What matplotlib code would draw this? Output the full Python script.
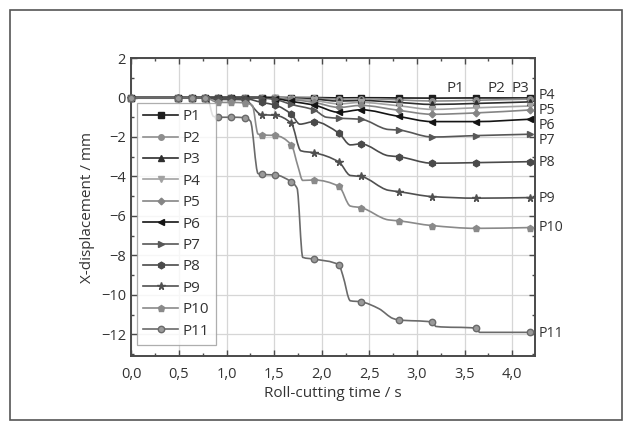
import matplotlib
matplotlib.use("Agg")
import matplotlib.pyplot as plt
import matplotlib.transforms as mtransforms
from matplotlib.lines import Line2D
from matplotlib.patches import Rectangle, PathPatch
from matplotlib.path import Path

plt.rcParams['font.family'] = ['Open Sans', 'DejaVu Sans']

# ---- data ----
series_names = ["P1", "P2", "P3", "P4", "P5", "P6", "P7", "P8", "P9", "P10", "P11"]

# times of the plotted symbols (s)
t_mark = [0.0, 0.49, 0.64, 0.77, 0.91, 1.05, 1.19, 1.37, 1.51, 1.68,
          1.92, 2.18, 2.41, 2.81, 3.16, 3.62, 4.19]

p1 = [0, 0, 0, 0, 0, 0, 0, 0, 0, 0, 0, -0.02, -0.01, -0.02, -0.03, -0.02, -0.02]
p2 = [0, 0, 0, 0, 0, 0, 0, 0, 0, 0, -0.03, -0.08, -0.06, -0.12, -0.18, -0.14, -0.08]
p3 = [0, 0, 0, 0, 0, 0, 0, 0, 0, -0.03, -0.08, -0.18, -0.15, -0.25, -0.35, -0.30, -0.22]
p4 = [0, 0, 0, 0, 0, 0, 0, 0, 0, -0.06, -0.15, -0.32, -0.25, -0.42, -0.60, -0.52, -0.43]
p5 = [0, 0, 0, 0, 0, 0, 0, 0, -0.03, -0.10, -0.25, -0.50, -0.40, -0.65, -0.85, -0.78, -0.63]
p6 = [0, 0, 0, 0, 0, 0, 0, 0, -0.05, -0.20, -0.38, -0.75, -0.62, -0.96, -1.22, -1.22, -1.10]
p7 = [0, 0, 0, 0, 0, 0, 0, -0.03, -0.10, -0.35, -0.63, -1.05, -1.10, -1.65, -2.00, -1.93, -1.86]
p8 = [0, 0, 0, 0, -0.03, -0.03, -0.05, -0.25, -0.38, -0.85, -1.22, -1.81, -2.35, -3.00, -3.33, -3.30, -3.25]
p9 = [0, 0, 0, 0, -0.10, -0.10, -0.12, -0.87, -0.90, -1.31, -2.80, -3.27, -4.00, -4.77, -5.02, -5.10, -5.07]
p10 = [0, 0, 0, 0, -0.25, -0.25, -0.27, -1.90, -1.92, -2.40, -4.18, -4.50, -5.58, -6.25, -6.49, -6.63, -6.59]
p11 = [0, 0, 0, 0, -1.00, -1.00, -1.02, -3.90, -3.92, -4.28, -8.19, -8.48, -10.35, -11.27, -11.38, -11.69, -11.90]

# extra points along the curves between the symbols (t, value)
k1 = []
k2 = []
k3 = []
k4 = []
k5 = []
k6 = []
k7 = [(2.05, -1.00), (2.70, -1.62)]
k8 = [(1.77, -1.35), (2.30, -2.40), (2.70, -2.95)]
k9 = [(1.36, -0.86), (1.78, -2.70), (2.30, -3.95), (2.70, -4.70)]
k10 = [(1.27, -0.40), (1.33, -1.85), (1.75, -3.50), (1.80, -4.20), (2.30, -5.50), (2.70, -6.20)]
k11 = [(0.80, -0.05), (0.86, -0.95), (1.25, -1.20), (1.33, -3.85), (1.74, -4.60),
       (1.80, -8.10), (2.22, -9.00), (2.30, -10.30), (2.60, -10.70), (2.75, -11.20),
       (3.20, -11.60), (3.66, -11.90)]

values = [p1, p2, p3, p4, p5, p6, p7, p8, p9, p10, p11]
knots = [k1, k2, k3, k4, k5, k6, k7, k8, k9, k10, k11]

x_ticks = [0.0, 0.5, 1.0, 1.5, 2.0, 2.5, 3.0, 3.5, 4.0]
x_ticklabels = ["0,0", "0,5", "1,0", "1,5", "2,0", "2,5", "3,0", "3,5", "4,0"]
y_ticks = [2, 0, -2, -4, -6, -8, -10, -12]

# ---- styles ----
markers = ['s', 'o', '^', 'v', 'D', '<', '>', 'h', '*', 'p', 'o']
msizes = [4.0, 4.0, 4.5, 4.5, 3.4, 4.5, 4.5, 4.8, 5.5, 4.6, 4.6]
colors = ['#1e1e1e', '#8e8e8e', '#2e2e2e', '#a2a2a2', '#858585', '#141414',
          '#575757', '#4a4a4a', '#505050', '#8a8a8a', '#6a6a6a']
facecols = list(colors)
facecols[10] = '#9a9a9a'


def smooth_path(xs, ys):
    """Monotone cubic Hermite (Fritsch-Carlson) drawn as Bezier segments."""
    n = len(xs)
    h = [xs[i + 1] - xs[i] for i in range(n - 1)]
    d = [(ys[i + 1] - ys[i]) / h[i] if h[i] > 0 else 0.0 for i in range(n - 1)]
    m = [0.0] * n
    m[0] = d[0]
    m[-1] = d[-1]
    for i in range(1, n - 1):
        if d[i - 1] * d[i] <= 0:
            m[i] = 0.0
        else:
            w1 = 2 * h[i] + h[i - 1]
            w2 = h[i] + 2 * h[i - 1]
            m[i] = (w1 + w2) / (w1 / d[i - 1] + w2 / d[i])
    verts = [(xs[0], ys[0])]
    codes = [Path.MOVETO]
    for i in range(n - 1):
        verts += [(xs[i] + h[i] / 3, ys[i] + m[i] * h[i] / 3),
                  (xs[i + 1] - h[i] / 3, ys[i + 1] - m[i + 1] * h[i] / 3),
                  (xs[i + 1], ys[i + 1])]
        codes += [Path.CURVE4] * 3
    return Path(verts, codes)


fig = plt.figure(figsize=(6.32, 4.30), dpi=100)
ax = fig.add_axes([0.208, 0.172, 0.6385, 0.693])

handles = []
for name, vals, kn, m, ms, c, fc in zip(series_names, values, knots, markers, msizes, colors, facecols):
    pts = sorted(list(zip(t_mark, vals)) + list(kn))
    xs = [p[0] for p in pts]
    ys = [p[1] for p in pts]
    ax.add_patch(PathPatch(smooth_path(xs, ys), facecolor='none', edgecolor=c, lw=1.2, zorder=2))
    ax.plot(t_mark, vals, linestyle='none', marker=m, markersize=ms, color=c,
            markerfacecolor=fc, markeredgecolor=c, zorder=3, clip_on=False)
    handles.append(Line2D([0], [0], color=c, lw=1.2, marker=m, markersize=ms,
                          markerfacecolor=fc, markeredgecolor=c, label=name))

ax.set_xlim(0, 4.24)
ax.set_ylim(-13.1, 2.0)
ax.set_xticks(x_ticks)
ax.set_xticklabels(x_ticklabels)
ax.set_xticks([0.25, 0.75, 1.25, 1.75, 2.25, 2.75, 3.25, 3.75], minor=True)
ax.set_yticks(y_ticks)
ax.set_yticks([1, -1, -3, -5, -7, -9, -11, -13], minor=True)
ax.grid(True, which='major', color='#d6d6d6', lw=0.9, zorder=0)
ax.set_axisbelow(True)

for s in ax.spines.values():
    s.set_color('#4a4a4a')
    s.set_linewidth(1.4)
ax.tick_params(which='both', direction='in', top=True, right=True, colors='#4a4a4a',
               labelcolor='#333333', labelsize=10.5)
ax.tick_params(which='major', length=4.5, width=1.0)
ax.tick_params(which='minor', length=2.5, width=1.0)
ax.tick_params(axis='x', pad=8)
ax.tick_params(axis='y', pad=4)

ax.set_xlabel("Roll-cutting time / s", fontsize=11, color='#333333', labelpad=3)
ax.set_ylabel("X-displacement / mm", fontsize=11, color='#333333', labelpad=4)

leg = ax.legend(handles=handles, loc='upper left', bbox_to_anchor=(0.014, 0.848),
                frameon=True, fancybox=False, fontsize=11, handlelength=2.3,
                handletextpad=0.3, labelspacing=0.42, borderpad=0.4, borderaxespad=0.0)
leg.get_frame().set_edgecolor('#9a9a9a')
leg.get_frame().set_linewidth(0.9)
for txt in leg.get_texts():
    txt.set_color('#333333')

# series labels
lab_kw = dict(fontsize=10.2, color='#333333', va='center', ha='left')
trans = mtransforms.blended_transform_factory(ax.transAxes, ax.transData)
right_labels = ["P4", "P5", "P6", "P7", "P8", "P9", "P10", "P11"]
right_label_y = [0.12, -0.66, -1.42, -2.17, -3.27, -5.12, -6.6, -11.95]
for nm, yy in zip(right_labels, right_label_y):
    ax.text(1.008, yy, nm, transform=trans, clip_on=False, **lab_kw)
top_labels = ["P1", "P2", "P3"]
top_label_x = [3.40, 3.84, 4.09]
for nm, xx in zip(top_labels, top_label_x):
    ax.text(xx, 0.45, nm, ha='center', va='center', fontsize=11, color='#333333')

# outer frame
fig.patches.append(Rectangle((10 / 632, 10 / 430), 612 / 632, 410 / 430, transform=fig.transFigure,
                             fill=False, edgecolor='#555555', lw=1.2))

fig.savefig("out.png", dpi=100)
